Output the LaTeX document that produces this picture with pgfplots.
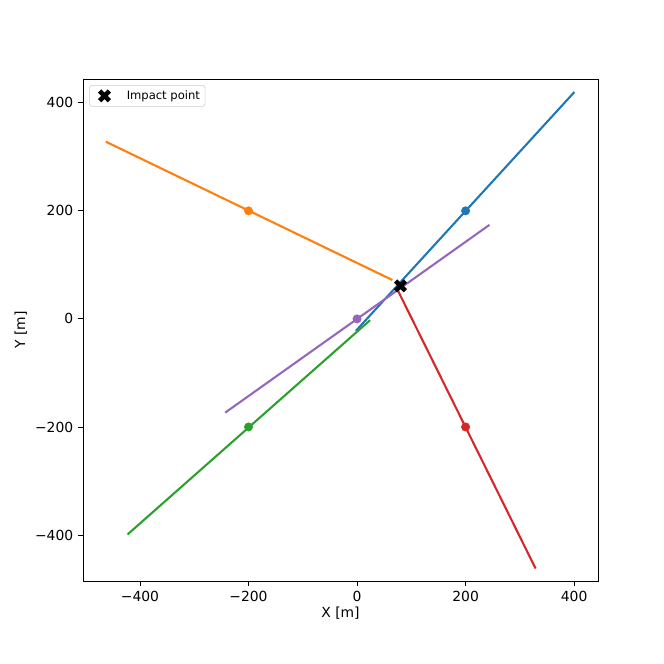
\documentclass[border=0pt]{standalone}
\usepackage{pgfplots}
\pgfplotsset{compat=1.18}
\usepackage{fontspec}
\setmainfont{DejaVu Sans}
\definecolor{tblue}{HTML}{1F77B4}
\definecolor{torange}{HTML}{FF7F0E}
\definecolor{tgreen}{HTML}{2CA02C}
\definecolor{tred}{HTML}{D62728}
\definecolor{tpurple}{HTML}{9467BD}
\pgfdeclareplotmark{Xfilled}{%
  \pgftransformrotate{45}%
  \pgfpathmoveto{\pgfpoint{-0.33\pgfplotmarksize}{-\pgfplotmarksize}}%
  \pgfpathlineto{\pgfpoint{0.33\pgfplotmarksize}{-\pgfplotmarksize}}%
  \pgfpathlineto{\pgfpoint{0.33\pgfplotmarksize}{-0.33\pgfplotmarksize}}%
  \pgfpathlineto{\pgfpoint{\pgfplotmarksize}{-0.33\pgfplotmarksize}}%
  \pgfpathlineto{\pgfpoint{\pgfplotmarksize}{0.33\pgfplotmarksize}}%
  \pgfpathlineto{\pgfpoint{0.33\pgfplotmarksize}{0.33\pgfplotmarksize}}%
  \pgfpathlineto{\pgfpoint{0.33\pgfplotmarksize}{\pgfplotmarksize}}%
  \pgfpathlineto{\pgfpoint{-0.33\pgfplotmarksize}{\pgfplotmarksize}}%
  \pgfpathlineto{\pgfpoint{-0.33\pgfplotmarksize}{0.33\pgfplotmarksize}}%
  \pgfpathlineto{\pgfpoint{-\pgfplotmarksize}{0.33\pgfplotmarksize}}%
  \pgfpathlineto{\pgfpoint{-\pgfplotmarksize}{-0.33\pgfplotmarksize}}%
  \pgfpathlineto{\pgfpoint{-0.33\pgfplotmarksize}{-0.33\pgfplotmarksize}}%
  \pgfpathclose
  \pgfusepathqfill
}
\begin{document}
\begin{tikzpicture}
\begin{axis}[
  width=370.8pt, height=361.4pt, scale only axis,
  xmin=-505, xmax=444, ymin=-485, ymax=444,
  xtick={-400,-200,0,200,400},
  xticklabels={−400,−200,0,200,400},
  ytick={-400,-200,0,200,400},
  yticklabels={−400,−200,0,200,400},
  tick label style={font=\fontsize{10}{12}\selectfont},
  label style={font=\fontsize{10}{12}\selectfont},
  xlabel={X [m]}, ylabel={Y [m]},
  tick align=outside, tick pos=left,
  major tick length=3.5pt,
  every tick/.style={black, line width=0.6pt},
  axis line style={line width=0.6pt},
  xlabel style={yshift=3pt},
  ylabel style={yshift=-1pt},
  legend style={font=\fontsize{8.33}{10}\selectfont, draw=black!20, rounded corners=2pt, at={(0.012,0.988)}, anchor=north west, inner sep=1.5pt, nodes={inner sep=2.2pt}},
  legend cell align=left,
  legend image code/.code={\path (0cm,0cm) (0.8cm,0cm); \draw[#1] plot coordinates {(0.32cm,0cm)};},
]
% lines
\addplot[tblue, line width=1.5pt, forget plot] coordinates {(-2,-22) (400.6,420)};
\addplot[torange, line width=1.5pt, forget plot] coordinates {(-463,328) (65,72)};
\addplot[tgreen, line width=1.5pt, forget plot] coordinates {(-423,-399) (24,-2.4)};
\addplot[tred, line width=1.5pt, forget plot] coordinates {(73,57) (329,-462)};
\addplot[tpurple, line width=1.5pt, forget plot] coordinates {(-243,-173.5) (244,174)};
% points
\addplot[only marks, mark=*, mark size=3pt, tblue, forget plot] coordinates {(200,200)};
\addplot[only marks, mark=*, mark size=3pt, torange, forget plot] coordinates {(-200,200)};
\addplot[only marks, mark=*, mark size=3pt, tgreen, forget plot] coordinates {(-200,-200)};
\addplot[only marks, mark=*, mark size=3pt, tred, forget plot] coordinates {(200,-200)};
\addplot[only marks, mark=*, mark size=3pt, tpurple, forget plot] coordinates {(0,0)};
% impact
\addplot[only marks, mark=Xfilled, mark size=5pt, black] coordinates {(80,61)};
\addlegendentry{Impact point}
\end{axis}
\path (current axis.south west) ++(-59.76pt,-59.76pt) coordinate (bl);
\path (current axis.north east) ++(47.52pt,56.88pt) coordinate (tr);
\useasboundingbox (bl) rectangle (tr);
\end{tikzpicture}
\end{document}
